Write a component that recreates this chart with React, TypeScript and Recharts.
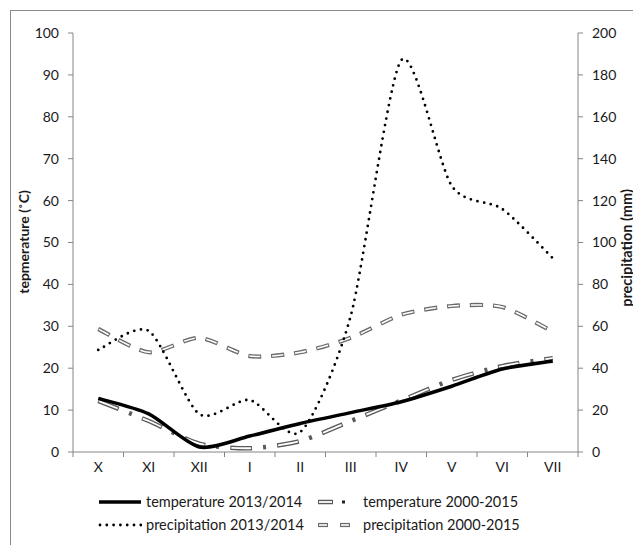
import React from "react";
import { ComposedChart, Line, XAxis, YAxis } from "recharts";

// ── Data ────────────────────────────────────────────────────────────
const MONTHS = ["X", "XI", "XII", "I", "II", "III", "IV", "V", "VI", "VII"];
const TEMP_2013 = [12.8, 9.1, 1.2, 3.8, 6.8, 9.4, 12.0, 15.7, 19.8, 21.7];
const TEMP_AVG = [12.2, 7.4, 2.0, 0.9, 2.6, 7.4, 12.3, 17.2, 20.5, 22.4];
const PREC_2013 = [48.7, 57.8, 18.1, 24.8, 9.5, 65, 187, 127, 116, 92.5];
const PREC_AVG = [58.7, 47.6, 54.5, 45.8, 47.6, 54.5, 65.5, 69.7, 69.2, 57.5];

const TEMP_TICKS = [0, 10, 20, 30, 40, 50, 60, 70, 80, 90, 100];
const PREC_TICKS = [0, 20, 40, 60, 80, 100, 120, 140, 160, 180, 200];

const data = MONTHS.map((m, i) => ({
  month: m,
  t2013: TEMP_2013[i],
  tavg: TEMP_AVG[i],
  p2013: PREC_2013[i],
  pavg: PREC_AVG[i],
}));

// ── Layout ──────────────────────────────────────────────────────────
const W = 633;
const H = 530;
const LEFT_W = 65;
const RIGHT_W = 63;
const STEP = (W - LEFT_W - RIGHT_W) / MONTHS.length;
const FONT = "Lato, 'Open Sans', sans-serif";
const AXIS = "#868686";
const TEXT = "#1a1a1a";

// Excel-style "smoothed line": Catmull-Rom-ish segments as cubic beziers
// (slightly tighter than plain Catmull-Rom so peaks stay pointy).
const SMOOTH = 1 / 8;
function excelSmooth(context: any) {
  let pts: number[][] = [];
  return {
    areaStart() {},
    areaEnd() {},
    lineStart() {
      pts = [];
    },
    point(x: number, y: number) {
      pts.push([+x, +y]);
    },
    lineEnd() {
      const n = pts.length;
      if (!n) return;
      context.moveTo(pts[0][0], pts[0][1]);
      for (let i = 0; i < n - 1; i++) {
        const p0 = pts[Math.max(0, i - 1)];
        const p1 = pts[i];
        const p2 = pts[i + 1];
        const p3 = pts[Math.min(n - 1, i + 2)];
        context.bezierCurveTo(
          p1[0] + (p2[0] - p0[0]) * SMOOTH,
          p1[1] + (p2[1] - p0[1]) * SMOOTH,
          p2[0] - (p3[0] - p1[0]) * SMOOTH,
          p2[1] - (p3[1] - p1[1]) * SMOOTH,
          p2[0],
          p2[1]
        );
      }
    },
  };
}

// ── Line styles (Excel-ish compound lines) ─────────────────────────
const TAVG_OUTER = { stroke: "#5a5a5a", strokeWidth: 4.5, strokeDasharray: "22 11 3 11" };
const TAVG_INNER = { stroke: "#ffffff", strokeWidth: 1.8, strokeDasharray: "20 27", strokeDashoffset: 46 };
const PAVG_OUTER = { stroke: "#6a6a6a", strokeWidth: 4.2, strokeDasharray: "13 10" };
const PAVG_INNER = { stroke: "#ffffff", strokeWidth: 1.6, strokeDasharray: "11 12", strokeDashoffset: 22 };
const P2013 = { stroke: "#000", strokeWidth: 2.8, strokeDasharray: "0 6.8", strokeLinecap: "round" as const };
const T2013 = { stroke: "#000", strokeWidth: 3.5 };

function MonthTick(props: any) {
  const { x, y, payload, index } = props;
  const half = STEP / 2;
  return (
    <g>
      <line x1={x - half} y1={y} x2={x - half} y2={y + 5} stroke={AXIS} />
      {index === MONTHS.length - 1 && (
        <line x1={x + half} y1={y} x2={x + half} y2={y + 5} stroke={AXIS} />
      )}
      <text x={x} y={y + 20} textAnchor="middle" fontSize={14} fontFamily={FONT} fill={TEXT}>
        {payload.value}
      </text>
    </g>
  );
}

function Sample({ kind }: { kind: string }) {
  if (kind === "t2013" || kind === "p2013") {
    return (
      <svg width={44} height={10} style={{ display: "block" }}>
        {kind === "t2013" && <line x1={1} y1={5} x2={43} y2={5} {...T2013} />}
        {kind === "p2013" && <line x1={2} y1={5} x2={43} y2={5} {...P2013} />}
      </svg>
    );
  }
  return (
    <svg width={40} height={10} style={{ display: "block" }}>
      {kind === "tavg" && (
        <>
          <line x1={0} y1={5} x2={15} y2={5} stroke="#5a5a5a" strokeWidth={4.5} />
          <line x1={1} y1={5} x2={14} y2={5} stroke="#fff" strokeWidth={1.8} />
          <rect x={24} y={3.5} width={3} height={3} fill="#222" />
        </>
      )}
      {kind === "pavg" && (
        <>
          <line x1={0} y1={5} x2={10} y2={5} stroke="#6a6a6a" strokeWidth={4.2} />
          <line x1={1} y1={5} x2={9} y2={5} stroke="#fff" strokeWidth={1.6} />
          <line x1={22} y1={5} x2={32} y2={5} stroke="#6a6a6a" strokeWidth={4.2} />
          <line x1={23} y1={5} x2={31} y2={5} stroke="#fff" strokeWidth={1.6} />
        </>
      )}
    </svg>
  );
}

const LEGEND = [
  { kind: "t2013", label: "temperature 2013/2014", left: 90, top: 485, gap: 4 },
  { kind: "tavg", label: "temperature 2000-2015", left: 310, top: 485, gap: 5 },
  { kind: "p2013", label: "precipitation 2013/2014", left: 90, top: 508, gap: 4 },
  { kind: "pavg", label: "precipitation 2000-2015", left: 310, top: 508, gap: 5 },
];

export default function App() {
  return (
    <div style={{ position: "relative", width: W, height: 537, fontFamily: FONT }}>
      <div
        style={{
          position: "absolute",
          left: 2,
          top: 2,
          width: W,
          height: 535,
          borderTop: "1.5px solid #8a8a8a",
          borderLeft: "1.5px solid #8a8a8a",
          boxSizing: "border-box",
        }}
      />
      <ComposedChart width={W} height={H} data={data} margin={{ top: 25, right: 0, bottom: 56, left: 0 }}>
        <XAxis
          dataKey="month"
          height={30}
          padding={{ left: STEP / 2, right: STEP / 2 }}
          axisLine={{ stroke: AXIS }}
          tickLine={false}
          tickSize={0}
          tickMargin={0}
          interval={0}
          tick={<MonthTick />}
        />
        <YAxis
          yAxisId="t"
          width={LEFT_W}
          domain={[0, 100]}
          ticks={TEMP_TICKS}
          interval={0}
          axisLine={{ stroke: AXIS }}
          tickLine={{ stroke: AXIS }}
          tickSize={5}
          tickMargin={9}
          tick={{ fontSize: 14, fontFamily: FONT, fill: TEXT }}
        />
        <YAxis
          yAxisId="p"
          orientation="right"
          width={RIGHT_W}
          domain={[0, 200]}
          ticks={PREC_TICKS}
          interval={0}
          axisLine={{ stroke: AXIS }}
          tickLine={{ stroke: AXIS }}
          tickSize={5}
          tickMargin={9}
          tick={{ fontSize: 14, fontFamily: FONT, fill: TEXT }}
        />
        <Line yAxisId="p" type={excelSmooth as any} dataKey="pavg" {...PAVG_OUTER} dot={false} isAnimationActive={false} />
        <Line yAxisId="p" type={excelSmooth as any} dataKey="pavg" {...PAVG_INNER} dot={false} isAnimationActive={false} />
        <Line yAxisId="t" type={excelSmooth as any} dataKey="tavg" {...TAVG_OUTER} dot={false} isAnimationActive={false} />
        <Line yAxisId="t" type={excelSmooth as any} dataKey="tavg" {...TAVG_INNER} dot={false} isAnimationActive={false} />
        <Line yAxisId="p" type={excelSmooth as any} dataKey="p2013" {...P2013} dot={false} isAnimationActive={false} />
        <Line yAxisId="t" type={excelSmooth as any} dataKey="t2013" {...T2013} dot={false} isAnimationActive={false} />
      </ComposedChart>

      <svg
        width={W}
        height={H}
        style={{ position: "absolute", left: 0, top: 0, pointerEvents: "none" }}
      >
        <text
          transform="translate(21 234) rotate(-90)"
          textAnchor="middle"
          fontFamily={FONT}
          fontWeight={700}
          fontSize={14}
          fill={TEXT}
        >
          tepmerature (˚C)
        </text>
        <text
          transform="translate(624 240) rotate(-90)"
          textAnchor="middle"
          fontFamily={FONT}
          fontWeight={700}
          fontSize={14.5}
          fill={TEXT}
        >
          precipitation (mm)
        </text>
      </svg>

      {LEGEND.map((l) => (
        <div
          key={l.kind}
          style={{
            position: "absolute",
            left: l.left,
            top: l.top,
            display: "flex",
            alignItems: "center",
            fontSize: 14.5,
            color: TEXT,
            whiteSpace: "nowrap",
          }}
        >
          <Sample kind={l.kind} />
          <span style={{ marginLeft: l.gap }}>{l.label}</span>
        </div>
      ))}
    </div>
  );
}
